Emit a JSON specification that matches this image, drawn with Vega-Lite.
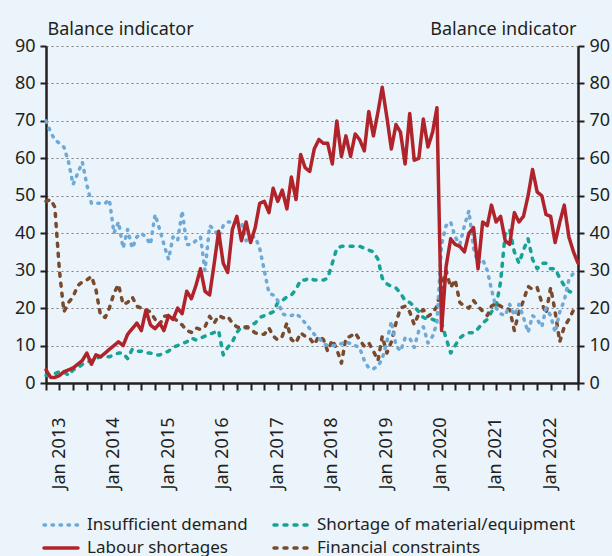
{
  "$schema": "https://vega.github.io/schema/vega-lite/v6.json",
  "width": 532,
  "height": 337,
  "autosize": {"type": "none"},
  "padding": {"left": 46, "top": 46, "right": 34, "bottom": 173},
  "background": "#EBF4FB",
  "config": {
    "view": {"stroke": null},
    "font": "Noto Sans",
    "axis": {
      "labelFontSize": 18, "labelColor": "#231F20", "titleColor": "#231F20",
      "titleFont": "Noto Sans", "labelFont": "Noto Sans",
      "domainColor": "#231F20", "domainWidth": 2.5,
      "tickColor": "#231F20", "tickWidth": 2
    },
    "legend": {
      "title": null, "orient": "none", "legendX": 3, "legendY": 467,
      "direction": "horizontal", "columns": 2, "gridAlign": "each",
      "columnPadding": 19, "rowPadding": 3,
      "symbolType": "M-1.7,0H1.7", "symbolSize": 400, "symbolStrokeWidth": 3.5,
      "labelFontSize": 17, "labelColor": "#231F20", "labelOffset": 14,
      "labelLimit": 400
    }
  },
  "data": {"values": [
    {"date":"2013-01-01","Insufficient demand":70,"Shortage of material/equipment":2,"Labour shortages":3.5,"Financial constraints":48.5},
    {"date":"2013-02-01","Insufficient demand":67,"Shortage of material/equipment":2,"Labour shortages":1.5,"Financial constraints":49},
    {"date":"2013-03-01","Insufficient demand":65,"Shortage of material/equipment":2.5,"Labour shortages":1.5,"Financial constraints":47},
    {"date":"2013-04-01","Insufficient demand":64,"Shortage of material/equipment":3,"Labour shortages":2,"Financial constraints":30},
    {"date":"2013-05-01","Insufficient demand":63,"Shortage of material/equipment":3,"Labour shortages":3,"Financial constraints":19},
    {"date":"2013-06-01","Insufficient demand":59,"Shortage of material/equipment":2,"Labour shortages":3.5,"Financial constraints":21.5},
    {"date":"2013-07-01","Insufficient demand":53,"Shortage of material/equipment":3.5,"Labour shortages":4,"Financial constraints":23},
    {"date":"2013-08-01","Insufficient demand":56,"Shortage of material/equipment":4,"Labour shortages":5,"Financial constraints":26},
    {"date":"2013-09-01","Insufficient demand":59,"Shortage of material/equipment":5,"Labour shortages":6,"Financial constraints":27},
    {"date":"2013-10-01","Insufficient demand":53,"Shortage of material/equipment":5.5,"Labour shortages":8,"Financial constraints":27.5},
    {"date":"2013-11-01","Insufficient demand":48,"Shortage of material/equipment":6,"Labour shortages":5,"Financial constraints":28.5},
    {"date":"2013-12-01","Insufficient demand":48,"Shortage of material/equipment":6.5,"Labour shortages":7.5,"Financial constraints":25},
    {"date":"2014-01-01","Insufficient demand":48,"Shortage of material/equipment":7,"Labour shortages":7,"Financial constraints":18},
    {"date":"2014-02-01","Insufficient demand":48,"Shortage of material/equipment":7,"Labour shortages":8,"Financial constraints":17.5},
    {"date":"2014-03-01","Insufficient demand":49,"Shortage of material/equipment":7,"Labour shortages":9,"Financial constraints":20},
    {"date":"2014-04-01","Insufficient demand":40,"Shortage of material/equipment":7.5,"Labour shortages":10,"Financial constraints":24},
    {"date":"2014-05-01","Insufficient demand":43,"Shortage of material/equipment":8,"Labour shortages":11,"Financial constraints":26.3},
    {"date":"2014-06-01","Insufficient demand":36,"Shortage of material/equipment":8,"Labour shortages":10,"Financial constraints":21},
    {"date":"2014-07-01","Insufficient demand":41,"Shortage of material/equipment":6.5,"Labour shortages":13,"Financial constraints":21.5},
    {"date":"2014-08-01","Insufficient demand":36,"Shortage of material/equipment":9,"Labour shortages":14.5,"Financial constraints":23},
    {"date":"2014-09-01","Insufficient demand":39,"Shortage of material/equipment":8.5,"Labour shortages":16,"Financial constraints":20.5},
    {"date":"2014-10-01","Insufficient demand":40,"Shortage of material/equipment":8.5,"Labour shortages":14,"Financial constraints":20},
    {"date":"2014-11-01","Insufficient demand":39,"Shortage of material/equipment":8,"Labour shortages":19.5,"Financial constraints":19.5},
    {"date":"2014-12-01","Insufficient demand":37,"Shortage of material/equipment":8,"Labour shortages":15.5,"Financial constraints":19},
    {"date":"2015-01-01","Insufficient demand":45,"Shortage of material/equipment":7.5,"Labour shortages":14.5,"Financial constraints":17},
    {"date":"2015-02-01","Insufficient demand":41,"Shortage of material/equipment":7.5,"Labour shortages":16,"Financial constraints":15.6},
    {"date":"2015-03-01","Insufficient demand":37,"Shortage of material/equipment":8,"Labour shortages":14,"Financial constraints":17.8},
    {"date":"2015-04-01","Insufficient demand":33,"Shortage of material/equipment":8.5,"Labour shortages":18,"Financial constraints":18},
    {"date":"2015-05-01","Insufficient demand":39,"Shortage of material/equipment":9.5,"Labour shortages":17,"Financial constraints":17.5},
    {"date":"2015-06-01","Insufficient demand":38,"Shortage of material/equipment":10,"Labour shortages":20,"Financial constraints":16.5},
    {"date":"2015-07-01","Insufficient demand":46,"Shortage of material/equipment":10.5,"Labour shortages":18.5,"Financial constraints":15.5},
    {"date":"2015-08-01","Insufficient demand":37,"Shortage of material/equipment":11,"Labour shortages":24.5,"Financial constraints":14},
    {"date":"2015-09-01","Insufficient demand":37,"Shortage of material/equipment":12,"Labour shortages":22.5,"Financial constraints":13.5},
    {"date":"2015-10-01","Insufficient demand":38,"Shortage of material/equipment":11.5,"Labour shortages":26,"Financial constraints":14.7},
    {"date":"2015-11-01","Insufficient demand":39,"Shortage of material/equipment":12,"Labour shortages":30.5,"Financial constraints":14.3},
    {"date":"2015-12-01","Insufficient demand":30,"Shortage of material/equipment":12.5,"Labour shortages":24.5,"Financial constraints":15},
    {"date":"2016-01-01","Insufficient demand":42,"Shortage of material/equipment":13,"Labour shortages":23.5,"Financial constraints":17.8},
    {"date":"2016-02-01","Insufficient demand":41,"Shortage of material/equipment":13.5,"Labour shortages":32,"Financial constraints":16},
    {"date":"2016-03-01","Insufficient demand":39,"Shortage of material/equipment":14,"Labour shortages":40.5,"Financial constraints":18},
    {"date":"2016-04-01","Insufficient demand":42,"Shortage of material/equipment":7.5,"Labour shortages":32,"Financial constraints":17.4},
    {"date":"2016-05-01","Insufficient demand":43,"Shortage of material/equipment":9.5,"Labour shortages":29.5,"Financial constraints":17.8},
    {"date":"2016-06-01","Insufficient demand":43,"Shortage of material/equipment":11,"Labour shortages":41,"Financial constraints":16},
    {"date":"2016-07-01","Insufficient demand":43,"Shortage of material/equipment":13.5,"Labour shortages":44.5,"Financial constraints":15},
    {"date":"2016-08-01","Insufficient demand":43,"Shortage of material/equipment":15,"Labour shortages":38,"Financial constraints":14.7},
    {"date":"2016-09-01","Insufficient demand":38,"Shortage of material/equipment":14.7,"Labour shortages":43,"Financial constraints":15},
    {"date":"2016-10-01","Insufficient demand":39,"Shortage of material/equipment":15.5,"Labour shortages":37.5,"Financial constraints":14.3},
    {"date":"2016-11-01","Insufficient demand":39,"Shortage of material/equipment":16,"Labour shortages":41.5,"Financial constraints":13.4},
    {"date":"2016-12-01","Insufficient demand":36,"Shortage of material/equipment":17.5,"Labour shortages":48,"Financial constraints":13},
    {"date":"2017-01-01","Insufficient demand":30,"Shortage of material/equipment":18,"Labour shortages":48.5,"Financial constraints":13},
    {"date":"2017-02-01","Insufficient demand":24,"Shortage of material/equipment":18.5,"Labour shortages":45.5,"Financial constraints":14.7},
    {"date":"2017-03-01","Insufficient demand":23.5,"Shortage of material/equipment":19,"Labour shortages":52,"Financial constraints":12.5},
    {"date":"2017-04-01","Insufficient demand":22,"Shortage of material/equipment":21.5,"Labour shortages":48.5,"Financial constraints":11.5},
    {"date":"2017-05-01","Insufficient demand":18.5,"Shortage of material/equipment":22,"Labour shortages":51.5,"Financial constraints":12.5},
    {"date":"2017-06-01","Insufficient demand":18,"Shortage of material/equipment":23,"Labour shortages":46.5,"Financial constraints":16},
    {"date":"2017-07-01","Insufficient demand":18,"Shortage of material/equipment":23.5,"Labour shortages":55,"Financial constraints":11.6},
    {"date":"2017-08-01","Insufficient demand":18.5,"Shortage of material/equipment":25,"Labour shortages":49,"Financial constraints":10.7},
    {"date":"2017-09-01","Insufficient demand":17.5,"Shortage of material/equipment":27.5,"Labour shortages":61,"Financial constraints":13.4},
    {"date":"2017-10-01","Insufficient demand":16,"Shortage of material/equipment":27.5,"Labour shortages":57.5,"Financial constraints":12.5},
    {"date":"2017-11-01","Insufficient demand":14.5,"Shortage of material/equipment":28,"Labour shortages":56.5,"Financial constraints":12},
    {"date":"2017-12-01","Insufficient demand":13,"Shortage of material/equipment":27.5,"Labour shortages":62.5,"Financial constraints":10.3},
    {"date":"2018-01-01","Insufficient demand":12,"Shortage of material/equipment":27.5,"Labour shortages":65,"Financial constraints":12.5},
    {"date":"2018-02-01","Insufficient demand":10.5,"Shortage of material/equipment":27.5,"Labour shortages":64,"Financial constraints":11.6},
    {"date":"2018-03-01","Insufficient demand":10,"Shortage of material/equipment":28,"Labour shortages":64,"Financial constraints":8.5},
    {"date":"2018-04-01","Insufficient demand":10,"Shortage of material/equipment":32,"Labour shortages":58.5,"Financial constraints":11.5},
    {"date":"2018-05-01","Insufficient demand":10,"Shortage of material/equipment":36,"Labour shortages":70,"Financial constraints":9},
    {"date":"2018-06-01","Insufficient demand":10.5,"Shortage of material/equipment":36.5,"Labour shortages":60.5,"Financial constraints":5.3},
    {"date":"2018-07-01","Insufficient demand":11,"Shortage of material/equipment":36.5,"Labour shortages":66,"Financial constraints":12},
    {"date":"2018-08-01","Insufficient demand":10.5,"Shortage of material/equipment":36.5,"Labour shortages":60.5,"Financial constraints":12.5},
    {"date":"2018-09-01","Insufficient demand":10,"Shortage of material/equipment":36.5,"Labour shortages":66.5,"Financial constraints":13.4},
    {"date":"2018-10-01","Insufficient demand":9.4,"Shortage of material/equipment":36.5,"Labour shortages":65,"Financial constraints":11.5},
    {"date":"2018-11-01","Insufficient demand":6,"Shortage of material/equipment":36,"Labour shortages":62,"Financial constraints":9.8},
    {"date":"2018-12-01","Insufficient demand":4,"Shortage of material/equipment":35.5,"Labour shortages":72.5,"Financial constraints":10.7},
    {"date":"2019-01-01","Insufficient demand":3.8,"Shortage of material/equipment":35,"Labour shortages":66,"Financial constraints":8.5},
    {"date":"2019-02-01","Insufficient demand":4.5,"Shortage of material/equipment":33,"Labour shortages":72.5,"Financial constraints":6},
    {"date":"2019-03-01","Insufficient demand":6.5,"Shortage of material/equipment":28,"Labour shortages":79,"Financial constraints":12.5},
    {"date":"2019-04-01","Insufficient demand":11,"Shortage of material/equipment":26.5,"Labour shortages":71,"Financial constraints":8},
    {"date":"2019-05-01","Insufficient demand":16.5,"Shortage of material/equipment":25.8,"Labour shortages":62.5,"Financial constraints":11},
    {"date":"2019-06-01","Insufficient demand":10,"Shortage of material/equipment":25.4,"Labour shortages":69,"Financial constraints":16},
    {"date":"2019-07-01","Insufficient demand":8.5,"Shortage of material/equipment":24,"Labour shortages":67,"Financial constraints":20},
    {"date":"2019-08-01","Insufficient demand":12,"Shortage of material/equipment":22,"Labour shortages":58.5,"Financial constraints":20.5},
    {"date":"2019-09-01","Insufficient demand":12,"Shortage of material/equipment":21.5,"Labour shortages":72,"Financial constraints":19},
    {"date":"2019-10-01","Insufficient demand":9.5,"Shortage of material/equipment":20.5,"Labour shortages":59.5,"Financial constraints":15.6},
    {"date":"2019-11-01","Insufficient demand":14,"Shortage of material/equipment":19,"Labour shortages":60,"Financial constraints":18.5},
    {"date":"2019-12-01","Insufficient demand":15,"Shortage of material/equipment":17.5,"Labour shortages":70.5,"Financial constraints":19.6},
    {"date":"2020-01-01","Insufficient demand":10.7,"Shortage of material/equipment":17,"Labour shortages":63,"Financial constraints":17.8},
    {"date":"2020-02-01","Insufficient demand":12.5,"Shortage of material/equipment":17,"Labour shortages":67,"Financial constraints":18.7},
    {"date":"2020-03-01","Insufficient demand":16,"Shortage of material/equipment":16.5,"Labour shortages":73.5,"Financial constraints":20.5},
    {"date":"2020-04-01","Insufficient demand":37,"Shortage of material/equipment":16,"Labour shortages":14,"Financial constraints":25.8},
    {"date":"2020-05-01","Insufficient demand":42,"Shortage of material/equipment":12,"Labour shortages":31,"Financial constraints":30},
    {"date":"2020-06-01","Insufficient demand":43,"Shortage of material/equipment":8,"Labour shortages":38.5,"Financial constraints":25.5},
    {"date":"2020-07-01","Insufficient demand":39,"Shortage of material/equipment":10,"Labour shortages":37,"Financial constraints":27.6},
    {"date":"2020-08-01","Insufficient demand":37,"Shortage of material/equipment":12,"Labour shortages":36.5,"Financial constraints":21.5},
    {"date":"2020-09-01","Insufficient demand":42,"Shortage of material/equipment":13,"Labour shortages":35,"Financial constraints":20.5},
    {"date":"2020-10-01","Insufficient demand":46,"Shortage of material/equipment":13.4,"Labour shortages":40,"Financial constraints":20},
    {"date":"2020-11-01","Insufficient demand":36,"Shortage of material/equipment":13.4,"Labour shortages":41.5,"Financial constraints":22},
    {"date":"2020-12-01","Insufficient demand":32,"Shortage of material/equipment":14.5,"Labour shortages":30.5,"Financial constraints":20.5},
    {"date":"2021-01-01","Insufficient demand":33,"Shortage of material/equipment":16,"Labour shortages":43,"Financial constraints":19.2},
    {"date":"2021-02-01","Insufficient demand":30,"Shortage of material/equipment":17,"Labour shortages":42,"Financial constraints":18},
    {"date":"2021-03-01","Insufficient demand":25,"Shortage of material/equipment":19,"Labour shortages":47.5,"Financial constraints":20.5},
    {"date":"2021-04-01","Insufficient demand":20,"Shortage of material/equipment":20.5,"Labour shortages":43,"Financial constraints":21.4},
    {"date":"2021-05-01","Insufficient demand":18.5,"Shortage of material/equipment":27,"Labour shortages":44.5,"Financial constraints":20.5},
    {"date":"2021-06-01","Insufficient demand":18,"Shortage of material/equipment":40,"Labour shortages":38,"Financial constraints":20},
    {"date":"2021-07-01","Insufficient demand":21,"Shortage of material/equipment":41,"Labour shortages":37,"Financial constraints":19.6},
    {"date":"2021-08-01","Insufficient demand":18,"Shortage of material/equipment":35,"Labour shortages":45.5,"Financial constraints":14},
    {"date":"2021-09-01","Insufficient demand":21,"Shortage of material/equipment":32,"Labour shortages":43,"Financial constraints":19},
    {"date":"2021-10-01","Insufficient demand":17.5,"Shortage of material/equipment":35.5,"Labour shortages":44.5,"Financial constraints":22},
    {"date":"2021-11-01","Insufficient demand":13.5,"Shortage of material/equipment":38.5,"Labour shortages":50,"Financial constraints":25.8},
    {"date":"2021-12-01","Insufficient demand":18,"Shortage of material/equipment":33,"Labour shortages":57,"Financial constraints":25},
    {"date":"2022-01-01","Insufficient demand":17,"Shortage of material/equipment":30.5,"Labour shortages":51,"Financial constraints":25.5},
    {"date":"2022-02-01","Insufficient demand":15,"Shortage of material/equipment":32,"Labour shortages":50,"Financial constraints":21.4},
    {"date":"2022-03-01","Insufficient demand":20,"Shortage of material/equipment":32,"Labour shortages":45,"Financial constraints":18.5},
    {"date":"2022-04-01","Insufficient demand":18,"Shortage of material/equipment":30.5,"Labour shortages":44.5,"Financial constraints":25.5},
    {"date":"2022-05-01","Insufficient demand":13.5,"Shortage of material/equipment":30.5,"Labour shortages":37.5,"Financial constraints":19},
    {"date":"2022-06-01","Insufficient demand":19,"Shortage of material/equipment":28,"Labour shortages":43,"Financial constraints":11},
    {"date":"2022-07-01","Insufficient demand":22,"Shortage of material/equipment":26,"Labour shortages":47.5,"Financial constraints":15},
    {"date":"2022-08-01","Insufficient demand":27.6,"Shortage of material/equipment":24.5,"Labour shortages":39,"Financial constraints":17},
    {"date":"2022-09-01","Insufficient demand":29.4,"Shortage of material/equipment":24,"Labour shortages":35,"Financial constraints":19.5},
    {"date":"2022-10-01","Insufficient demand":30,"Labour shortages":32}
  ]},
  "transform": [
    {"fold": ["Shortage of material/equipment", "Financial constraints", "Insufficient demand", "Labour shortages"], "as": ["series", "value"]}
  ],
  "layer": [
    {
      "mark": {"type": "line", "strokeWidth": 3.5, "strokeCap": "round", "strokeJoin": "round"},
      "encoding": {
        "x": {
          "field": "date", "type": "temporal",
          "scale": {"type": "utc", "nice": false},
          "axis": {
            "title": null, "orient": "bottom",
            "tickCount": {"interval": "month", "step": 3},
            "labelExpr": "utcmonth(datum.value) == 0 ? utcFormat(datum.value, 'Jan %Y') : ''",
            "labelAngle": 270, "labelAlign": "right", "labelBaseline": "middle",
            "labelOffset": 13, "labelPadding": 27,
            "labelOverlap": false, "labelBound": false, "labelFlush": false,
            "tickSize": 7, "grid": false
          }
        },
        "y": {
          "field": "value", "type": "quantitative",
          "scale": {"domain": [0, 90], "nice": false},
          "axis": {
            "orient": "left",
            "values": [0, 10, 20, 30, 40, 50, 60, 70, 80, 90],
            "title": "Balance indicator", "titleAngle": 0, "titleAlign": "left",
            "titleBaseline": "middle", "titleX": 1, "titleY": -17,
            "titleFontSize": 18, "titleFontWeight": "normal",
            "grid": true, "gridDash": [2, 3], "gridColor": "#7F7F7F", "gridWidth": 1,
            "tickSize": 6, "labelPadding": 5
          }
        },
        "color": {
          "field": "series", "type": "nominal",
          "scale": {
            "domain": ["Insufficient demand", "Shortage of material/equipment", "Labour shortages", "Financial constraints"],
            "range": ["#6FA9D6", "#16A294", "#B0232A", "#7A4A2C"]
          },
          "legend": {
            "encode": {"symbols": {"update": {"strokeCap": {"value": "round"}}}}
          }
        },
        "strokeDash": {
          "field": "series", "type": "nominal",
          "scale": {
            "domain": ["Insufficient demand", "Shortage of material/equipment", "Labour shortages", "Financial constraints"],
            "range": [[1.5, 6.5], [3, 7], [1, 0], [3, 7]]
          },
          "legend": {
            "encode": {"symbols": {"update": {"strokeCap": {"value": "round"}}}}
          }
        }
      }
    },
    {
      "mark": {"type": "rule", "opacity": 0},
      "encoding": {
        "y": {
          "datum": 0, "type": "quantitative",
          "scale": {"domain": [0, 90], "nice": false},
          "axis": {
            "orient": "right",
            "values": [0, 10, 20, 30, 40, 50, 60, 70, 80, 90],
            "title": "Balance indicator", "titleAngle": 0, "titleAlign": "right",
            "titleBaseline": "middle", "titleX": -2, "titleY": -17,
            "titleFontSize": 18, "titleFontWeight": "normal",
            "grid": false, "tickSize": 6, "labelPadding": 5
          }
        }
      }
    }
  ],
  "resolve": {"scale": {"y": "independent"}}
}
